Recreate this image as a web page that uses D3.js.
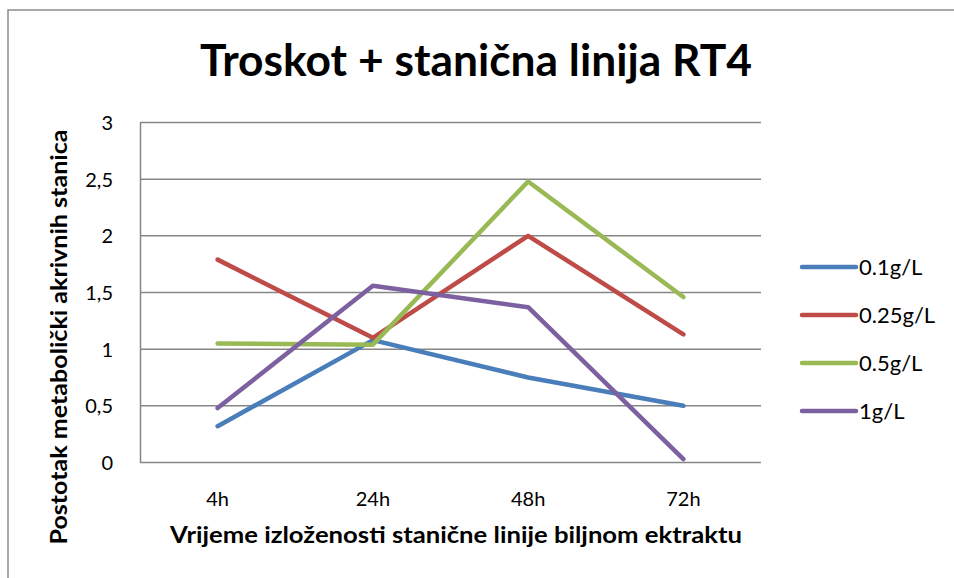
<!DOCTYPE html>
<html lang="hr">
<head>
<meta charset="utf-8">
<title>Troskot + stanična linija RT4</title>
<script src="https://cdn.jsdelivr.net/npm/d3@7/dist/d3.min.js"></script>
<style>
  body { margin: 0; background: #fff; }
  text { font-family: Lato, "Open Sans", sans-serif; fill: #000; }
</style>
</head>
<body>
<script>
// data
var categories = ['4h', '24h', '48h', '72h'];
var seriesNames = ['0.1g/L', '0.25g/L', '0.5g/L', '1g/L'];
var s01 = [0.32, 1.08, 0.75, 0.50];
var s025 = [1.79, 1.10, 2.00, 1.13];
var s05 = [1.05, 1.04, 2.48, 1.46];
var s1 = [0.48, 1.56, 1.37, 0.03];
var yTicks = [0, 0.5, 1, 1.5, 2, 2.5, 3];
var colors = ['#4A7EBB', '#BE4B48', '#98B954', '#7D60A0'];

var series = [s01, s025, s05, s1].map(function (v, i) {
  return { name: seriesNames[i], values: v, color: colors[i] };
});

var W = 954, H = 578;
var plot = { left: 140, right: 761, top: 122.5, bottom: 462.5 };

var svg = d3.select('body').append('svg')
  .attr('width', W).attr('height', H);

// chart frame (runs off the right and bottom edge)
svg.append('rect')
  .attr('x', 8).attr('y', 10)
  .attr('width', W + 10).attr('height', H + 10)
  .attr('fill', 'none').attr('stroke', '#8c8c8c').attr('stroke-width', 1.5);

var x = d3.scaleBand().domain(categories).range([plot.left, plot.right]);
var y = d3.scaleLinear().domain([0, 3]).range([plot.bottom, plot.top]);

// gridlines
svg.append('g').selectAll('line')
  .data(yTicks)
  .enter().append('line')
  .attr('x1', plot.left).attr('x2', plot.right)
  .attr('y1', function (d) { return y(d); })
  .attr('y2', function (d) { return y(d); })
  .attr('stroke', '#868686').attr('stroke-width', 1.5);

// y axis
var yAxis = d3.axisLeft(y).tickValues(yTicks).tickSize(0).tickPadding(27)
  .tickFormat(function (d) { return String(d).replace('.', ','); });
var gy = svg.append('g').attr('transform', 'translate(' + plot.left + ',0)').call(yAxis);
gy.select('.domain').attr('stroke', '#868686').attr('stroke-width', 1.5);
gy.selectAll('text').style('font-size', '20px').style('font-family', 'Lato, sans-serif').attr('dy', '0.35em');

// x axis
var xAxis = d3.axisBottom(x).tickSize(0).tickPadding(29);
var gx = svg.append('g').attr('transform', 'translate(0,' + plot.bottom + ')').call(xAxis);
gx.select('.domain').remove();
gx.selectAll('text').style('font-size', '20px').style('font-family', 'Lato, sans-serif');

// lines
var line = d3.line()
  .x(function (d, i) { return x(categories[i]) + x.bandwidth() / 2; })
  .y(function (d) { return y(d); });

svg.append('g').selectAll('path')
  .data(series)
  .enter().append('path')
  .attr('d', function (d) { return line(d.values); })
  .attr('fill', 'none')
  .attr('stroke', function (d) { return d.color; })
  .attr('stroke-width', 4.5)
  .attr('stroke-linecap', 'round')
  .attr('stroke-linejoin', 'round');

// legend
var lg = svg.append('g').selectAll('g')
  .data(series)
  .enter().append('g')
  .attr('transform', function (d, i) { return 'translate(802,' + (267 + i * 48) + ')'; });
lg.append('line')
  .attr('x1', 0).attr('x2', 54)
  .attr('stroke', function (d) { return d.color; })
  .attr('stroke-width', 4.5).attr('stroke-linecap', 'round');
lg.append('text')
  .attr('x', 57).attr('dy', '0.35em')
  .style('font-size', '22px')
  .text(function (d) { return d.name; });

// titles
svg.append('text')
  .attr('x', 476).attr('y', 76)
  .attr('text-anchor', 'middle')
  .attr('textLength', 552).attr('lengthAdjust', 'spacingAndGlyphs')
  .style('font-size', '43px').style('font-weight', 'bold')
  .text('Troskot + stanična linija RT4');

svg.append('text')
  .attr('x', 456).attr('y', 543)
  .attr('text-anchor', 'middle')
  .attr('textLength', 572).attr('lengthAdjust', 'spacingAndGlyphs')
  .style('font-size', '23px').style('font-weight', 'bold')
  .text('Vrijeme izloženosti stanične linije biljnom ektraktu');

svg.append('text')
  .attr('transform', 'translate(67,337) rotate(-90)')
  .attr('text-anchor', 'middle')
  .attr('textLength', 415).attr('lengthAdjust', 'spacingAndGlyphs')
  .style('font-size', '23px').style('font-weight', 'bold')
  .text('Postotak metabolički akrivnih stanica');
</script>
</body>
</html>
